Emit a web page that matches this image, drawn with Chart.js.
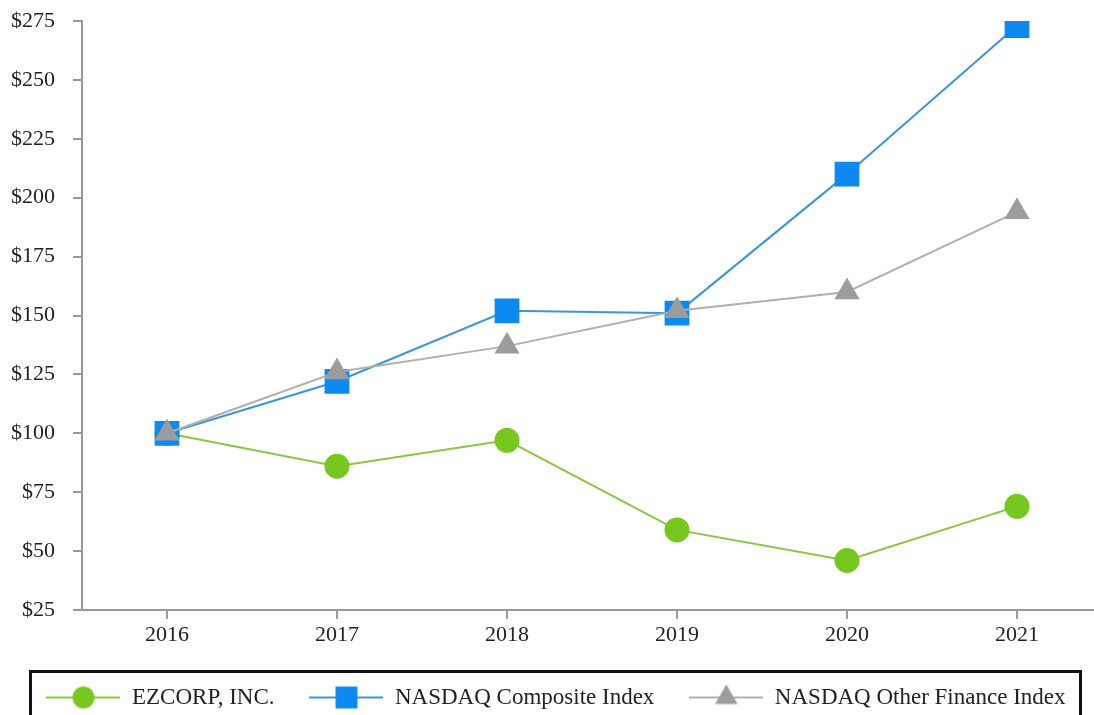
<!DOCTYPE html>
<html>
<head>
<meta charset="utf-8">
<script src="https://cdn.jsdelivr.net/npm/chart.js@4.4.1/dist/chart.umd.min.js"></script>
<style>
  html, body { margin: 0; padding: 0; background: #fff; overflow: hidden; }
  #wrap { position: relative; width: 1094px; height: 715px; overflow: hidden; }
  canvas { display: block; position: absolute; left: 0; top: 0; }
</style>
</head>
<body>
<div id="wrap"><canvas id="chart" width="1102" height="715"></canvas></div>
<script>
(function () {
  'use strict';

  // data
  const years = ['2016', '2017', '2018', '2019', '2020', '2021'];
  const ezcorp = [100, 86, 97, 59, 46, 69];
  const nasdaqComposite = [100, 122, 152, 151, 210, 273];
  const nasdaqOtherFinance = [100, 126, 137, 152, 160, 194];
  const seriesNames = ['EZCORP, INC.', 'NASDAQ Composite Index', 'NASDAQ Other Finance Index'];
  const yMin = 25, yMax = 275, yStep = 25;

  const FONT = '"Liberation Serif", "Times New Roman", serif';
  const COLORS = {
    green: '#76c71e', greenLine: '#8cc63f',
    blue: '#0d89f2', blueLine: '#3a96d8',
    gray: '#9c9c9c', grayLine: '#b0b0b0',
    axis: '#999999', text: '#222222'
  };

  // small legend icon: line with the marker in the middle
  function makeIcon(style, radius, color, lineColor) {
    const c = document.createElement('canvas');
    c.width = 74; c.height = 30;
    const ctx = c.getContext('2d');
    ctx.strokeStyle = lineColor;
    ctx.lineWidth = 2;
    ctx.beginPath();
    ctx.moveTo(0, 15); ctx.lineTo(74, 15);
    ctx.stroke();
    ctx.fillStyle = color;
    ctx.strokeStyle = color;
    Chart.helpers.drawPoint(ctx, { pointStyle: style, radius: radius, rotation: 0, borderWidth: 0 }, 37, 15);
    return c;
  }

  const datasets = [
    {
      label: seriesNames[0], data: ezcorp, order: 3,
      borderColor: COLORS.greenLine, backgroundColor: COLORS.green,
      pointBackgroundColor: COLORS.green, pointBorderColor: COLORS.green,
      pointStyle: 'circle', pointRadius: 12.5, pointHoverRadius: 12.5, borderWidth: 2, pointBorderWidth: 0,
      icon: makeIcon('circle', 11, COLORS.green, COLORS.greenLine)
    },
    {
      label: seriesNames[1], data: nasdaqComposite, order: 2,
      borderColor: COLORS.blueLine, backgroundColor: COLORS.blue,
      pointBackgroundColor: COLORS.blue, pointBorderColor: COLORS.blue,
      pointStyle: 'rect', pointRadius: 17.5, pointHoverRadius: 17.5, borderWidth: 2, pointBorderWidth: 0,
      icon: makeIcon('rect', 15.5, COLORS.blue, COLORS.blueLine)
    },
    {
      label: seriesNames[2], data: nasdaqOtherFinance, order: 1,
      borderColor: COLORS.grayLine, backgroundColor: COLORS.gray,
      pointBackgroundColor: COLORS.gray, pointBorderColor: COLORS.gray,
      pointStyle: 'triangle', pointRadius: 14.5, pointHoverRadius: 14.5, borderWidth: 2, pointBorderWidth: 0,
      icon: makeIcon('triangle', 13, COLORS.gray, COLORS.grayLine)
    }
  ];

  // black frame round the legend
  const legendFrame = {
    id: 'legendFrame',
    afterDraw(chart) {
      const lg = chart.legend;
      if (!lg || !lg.legendHitBoxes.length) return;
      const hb = lg.legendHitBoxes[0];
      const cy = hb.top + hb.height / 2;
      const ctx = chart.ctx;
      ctx.save();
      ctx.strokeStyle = '#111';
      ctx.lineWidth = 3;
      ctx.strokeRect(30.5, cy - 26, 1050, 200);
      ctx.restore();
    }
  };

  new Chart(document.getElementById('chart').getContext('2d'), {
    type: 'line',
    data: { labels: years, datasets: datasets },
    plugins: [legendFrame],
    options: {
      responsive: false,
      animation: false,
      layout: { autoPadding: false, padding: { top: 21, left: 10, right: 0, bottom: -4 } },
      scales: {
        x: {
          offset: true,
          grid: { drawOnChartArea: false, drawTicks: true, tickLength: 9, color: COLORS.axis, lineWidth: 2 },
          border: { display: true, color: COLORS.axis, width: 2 },
          ticks: { color: COLORS.text, font: { family: FONT, size: 22, lineHeight: 1 }, padding: 5 }
        },
        y: {
          min: yMin, max: yMax,
          afterFit: s => { s.width = 72; s.paddingTop = 0; s.paddingBottom = 0; },
          grid: { drawOnChartArea: false, drawTicks: true, tickLength: 9, color: COLORS.axis, lineWidth: 2 },
          border: { display: true, color: COLORS.axis, width: 2 },
          ticks: {
            stepSize: yStep, color: COLORS.text, padding: 18,
            font: { family: FONT, size: 22 },
            callback: v => '$' + v
          }
        }
      },
      plugins: {
        tooltip: { enabled: false },
        legend: {
          position: 'bottom',
          labels: {
            usePointStyle: true,
            pointStyleWidth: 74,
            padding: 35,
            color: COLORS.text,
            font: { family: FONT, size: 23 },
            generateLabels: chart => chart.data.datasets.map((ds, i) => ({
              text: ds.label,
              pointStyle: ds.icon,
              fillStyle: ds.backgroundColor,
              strokeStyle: ds.borderColor,
              lineWidth: 0,
              hidden: false,
              datasetIndex: i,
              fontColor: COLORS.text
            }))
          }
        }
      }
    }
  });
})();
</script>
</body>
</html>
